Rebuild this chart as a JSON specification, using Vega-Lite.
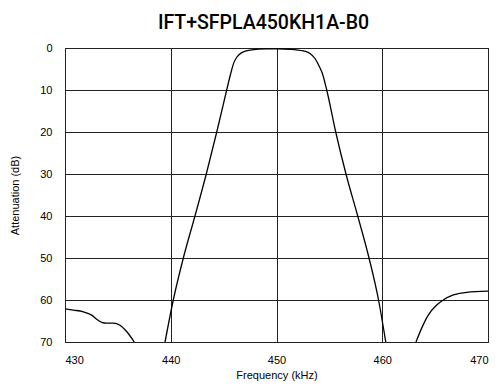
{
  "$schema": "https://vega.github.io/schema/vega-lite/v6.json",
  "width": 423,
  "height": 294,
  "autosize": "none",
  "padding": {"left": 65, "top": 48, "right": 12, "bottom": 46},
  "background": "white",
  "title": {"text": "IFT+SFPLA450KH1A-B0", "font": "Roboto", "fontSize": 19.5, "fontWeight": 500, "color": "#000", "anchor": "middle", "dx": -13, "offset": 9},
  "config": {
    "view": {"stroke": "#000", "strokeWidth": 1},
    "axis": {"labelFont": "Liberation Sans", "titleFont": "Liberation Sans", "labelFontSize": 11, "titleFontSize": 11, "titleFontWeight": "normal", "labelColor": "#000", "titleColor": "#000", "ticks": false, "domain": false, "grid": true, "gridColor": "#222", "gridOpacity": 1, "gridWidth": 1}
  },
  "data": {"values": [
    {"f": 430.0, "a": 62.1, "s": 1}, {"f": 430.78, "a": 62.4, "s": 1}, {"f": 431.73, "a": 62.8, "s": 1}, {"f": 432.52, "a": 63.6, "s": 1}, {"f": 433.0, "a": 64.6, "s": 1}, {"f": 433.47, "a": 65.3, "s": 1}, {"f": 433.94, "a": 65.5, "s": 1}, {"f": 434.57, "a": 65.5, "s": 1}, {"f": 435.2, "a": 66.0, "s": 1}, {"f": 435.83, "a": 67.5, "s": 1}, {"f": 436.55, "a": 70.0, "s": 1},
    {"f": 439.46, "a": 70.0, "s": 2}, {"f": 440.24, "a": 60.0, "s": 2}, {"f": 441.19, "a": 50.0, "s": 2}, {"f": 442.29, "a": 40.0, "s": 2}, {"f": 443.36, "a": 30.0, "s": 2}, {"f": 444.35, "a": 20.0, "s": 2}, {"f": 445.29, "a": 10.0, "s": 2}, {"f": 445.66, "a": 6.2, "s": 2}, {"f": 445.95, "a": 3.6, "s": 2}, {"f": 446.24, "a": 2.2, "s": 2}, {"f": 446.71, "a": 1.1, "s": 2}, {"f": 447.49, "a": 0.5, "s": 2}, {"f": 449.07, "a": 0.2, "s": 2}, {"f": 450.11, "a": 0.2, "s": 2}, {"f": 451.28, "a": 0.3, "s": 2}, {"f": 452.53, "a": 0.7, "s": 2}, {"f": 453.17, "a": 1.3, "s": 2}, {"f": 453.64, "a": 2.5, "s": 2}, {"f": 454.05, "a": 4.4, "s": 2}, {"f": 454.33, "a": 6.0, "s": 2}, {"f": 454.75, "a": 10.0, "s": 2}, {"f": 455.6, "a": 20.0, "s": 2}, {"f": 456.57, "a": 30.0, "s": 2}, {"f": 457.68, "a": 40.0, "s": 2}, {"f": 458.75, "a": 50.0, "s": 2}, {"f": 459.65, "a": 60.0, "s": 2}, {"f": 460.33, "a": 70.0, "s": 2},
    {"f": 463.19, "a": 70.0, "s": 3}, {"f": 463.73, "a": 66.7, "s": 3}, {"f": 464.35, "a": 63.6, "s": 3}, {"f": 465.15, "a": 61.2, "s": 3}, {"f": 465.77, "a": 60.0, "s": 3}, {"f": 466.72, "a": 58.8, "s": 3}, {"f": 467.98, "a": 58.2, "s": 3}, {"f": 470.0, "a": 57.9, "s": 3}
  ]},
  "mark": {"type": "line", "interpolate": "monotone", "color": "#000", "strokeWidth": 1.3, "clip": true},
  "encoding": {
    "x": {"field": "f", "type": "quantitative", "scale": {"domain": [430, 470], "nice": false, "zero": false}, "axis": {"values": [430, 440, 450, 460, 470], "title": "Frequency (kHz)", "labelPadding": 12, "titlePadding": 4}},
    "y": {"field": "a", "type": "quantitative", "scale": {"domain": [0, 70], "reverse": true, "nice": false, "zero": false}, "axis": {"values": [0, 10, 20, 30, 40, 50, 60, 70], "title": "Attenuation (dB)", "labelPadding": 13, "titlePadding": 19}},
    "detail": {"field": "s", "type": "nominal"},
    "order": {"field": "f", "type": "quantitative"}
  }
}
